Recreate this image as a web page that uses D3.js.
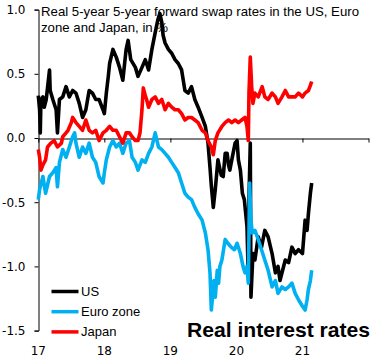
<!DOCTYPE html>
<html><head><meta charset="utf-8">
<script src="https://cdn.jsdelivr.net/npm/d3@7"></script>
<style>html,body{margin:0;padding:0;background:#fff;}svg{display:block;}</style>
</head><body>
<svg id="c" width="383" height="361"></svg>
<script>
// ---- data ----
const usDates = [2017.00,2017.02,2017.03,2017.04,2017.07,2017.09,2017.12,2017.17,2017.18,2017.22,2017.27,2017.29,2017.32,2017.37,2017.42,2017.47,2017.52,2017.57,2017.62,2017.67,2017.72,2017.77,2017.82,2017.87,2017.92,2017.98,2018.00,2018.03,2018.06,2018.08,2018.13,2018.18,2018.23,2018.28,2018.33,2018.36,2018.40,2018.47,2018.51,2018.57,2018.62,2018.67,2018.72,2018.77,2018.81,2018.84,2018.87,2018.89,2018.92,2018.97,2019.02,2019.07,2019.12,2019.17,2019.22,2019.27,2019.32,2019.37,2019.42,2019.48,2019.53,2019.57,2019.60,2019.62,2019.65,2019.68,2019.72,2019.77,2019.80,2019.83,2019.86,2019.88,2019.90,2019.93,2019.98,2020.01,2020.03,2020.06,2020.09,2020.12,2020.16,2020.18,2020.19,2020.21,2020.22,2020.25,2020.28,2020.33,2020.38,2020.43,2020.48,2020.54,2020.59,2020.63,2020.66,2020.69,2020.74,2020.79,2020.84,2020.89,2020.94,2021.00,2021.04,2021.07,2021.09,2021.12,2021.14];
const usValues = [0.33,0.22,0.04,0.30,0.32,0.24,0.30,0.53,0.37,0.30,0.22,0.04,0.30,0.32,0.40,0.32,0.37,0.35,0.27,0.16,0.22,0.37,0.35,0.30,0.30,0.22,0.19,0.35,0.48,0.58,0.69,0.63,0.55,0.45,0.69,0.76,0.61,0.55,0.48,0.55,0.61,0.53,0.69,0.82,0.92,0.97,0.90,0.80,0.74,0.69,0.66,0.61,0.58,0.53,0.37,0.35,0.40,0.30,0.24,0.16,0.09,-0.04,-0.23,-0.37,-0.54,-0.40,-0.17,-0.29,-0.30,-0.12,-0.12,-0.21,-0.25,-0.17,-0.04,-0.02,-0.17,-0.25,-0.43,-0.48,-0.69,-1.08,-0.48,-0.04,-1.24,-0.90,-0.95,-0.77,-0.85,-0.72,-0.77,-0.90,-1.05,-1.00,-1.11,-1.05,-0.95,-0.97,-0.85,-0.90,-0.87,-0.90,-0.64,-0.72,-0.59,-0.43,-0.35];

const euDates = [2017.00,2017.02,2017.07,2017.11,2017.17,2017.22,2017.27,2017.29,2017.32,2017.37,2017.42,2017.47,2017.52,2017.55,2017.57,2017.62,2017.67,2017.72,2017.77,2017.82,2017.87,2017.92,2017.98,2018.00,2018.03,2018.08,2018.13,2018.18,2018.23,2018.28,2018.33,2018.38,2018.42,2018.47,2018.51,2018.57,2018.62,2018.67,2018.72,2018.77,2018.82,2018.87,2018.92,2018.97,2019.02,2019.07,2019.12,2019.17,2019.22,2019.27,2019.32,2019.37,2019.42,2019.48,2019.53,2019.57,2019.60,2019.62,2019.66,2019.68,2019.71,2019.73,2019.75,2019.78,2019.83,2019.87,2019.92,2019.97,2020.01,2020.06,2020.10,2020.13,2020.16,2020.18,2020.20,2020.22,2020.24,2020.28,2020.33,2020.38,2020.43,2020.48,2020.54,2020.59,2020.63,2020.69,2020.74,2020.79,2020.84,2020.89,2020.94,2021.00,2021.04,2021.07,2021.09,2021.12,2021.14];
const euValues = [-0.48,-0.40,-0.30,-0.43,-0.30,-0.27,-0.23,-0.38,-0.19,-0.09,-0.15,-0.07,0.01,0.04,-0.04,-0.15,-0.07,-0.12,-0.04,-0.15,-0.19,-0.30,-0.35,-0.27,-0.17,-0.07,-0.02,-0.07,-0.04,-0.12,-0.04,-0.02,-0.15,-0.19,-0.25,-0.17,-0.19,-0.12,-0.07,0.04,-0.07,-0.09,-0.12,-0.15,-0.19,-0.23,-0.27,-0.35,-0.43,-0.46,-0.48,-0.54,-0.59,-0.64,-0.74,-0.87,-1.05,-1.34,-1.11,-1.24,-1.03,-1.13,-1.00,-0.95,-0.79,-0.82,-0.85,-0.87,-0.82,-0.90,-1.00,-1.05,-1.00,-1.13,-0.35,-0.64,-0.74,-0.72,-0.79,-0.87,-0.95,-1.03,-1.16,-1.11,-1.21,-1.16,-1.18,-1.16,-1.13,-1.21,-1.26,-1.31,-1.34,-1.26,-1.18,-1.11,-1.03];

const jpDates = [2017.00,2017.02,2017.04,2017.07,2017.11,2017.14,2017.19,2017.24,2017.29,2017.35,2017.37,2017.42,2017.45,2017.50,2017.52,2017.57,2017.62,2017.67,2017.72,2017.77,2017.82,2017.87,2017.92,2017.98,2018.03,2018.08,2018.13,2018.18,2018.23,2018.28,2018.33,2018.38,2018.42,2018.47,2018.51,2018.54,2018.57,2018.59,2018.62,2018.64,2018.67,2018.72,2018.77,2018.82,2018.87,2018.92,2018.97,2019.02,2019.07,2019.12,2019.17,2019.22,2019.27,2019.32,2019.37,2019.42,2019.48,2019.53,2019.57,2019.62,2019.65,2019.68,2019.72,2019.78,2019.83,2019.88,2019.93,2019.98,2020.03,2020.08,2020.13,2020.16,2020.18,2020.19,2020.21,2020.23,2020.25,2020.28,2020.33,2020.39,2020.43,2020.48,2020.54,2020.59,2020.63,2020.69,2020.74,2020.79,2020.84,2020.89,2020.94,2021.00,2021.04,2021.09,2021.12,2021.14];
const jpValues = [-0.09,-0.15,-0.25,-0.21,-0.17,-0.07,-0.04,-0.02,-0.07,-0.04,0.01,0.04,0.06,0.12,0.16,0.12,0.09,0.06,0.14,0.06,0.04,0.06,-0.02,0.04,0.06,0.09,0.06,0.06,0.01,-0.04,0.04,0.04,0.01,-0.02,-0.02,0.04,0.22,0.39,0.33,0.30,0.24,0.30,0.32,0.27,0.30,0.22,0.27,0.24,0.22,0.22,0.19,0.14,0.16,0.16,0.14,0.12,0.06,0.04,-0.02,-0.07,-0.13,-0.02,0.04,0.09,0.12,0.14,0.12,0.14,0.12,0.14,0.16,0.09,-0.02,0.35,0.63,0.41,0.27,0.35,0.32,0.40,0.32,0.30,0.35,0.32,0.27,0.32,0.37,0.32,0.32,0.32,0.35,0.32,0.35,0.37,0.41,0.44];

const seriesNames = ["US", "Euro zone", "Japan"];
const seriesColors = ["#000000", "#00B0F0", "#FF0000"];
const yTicks = [1.0, 0.5, 0.0, -0.5, -1.0, -1.5];
const yTickLabels = ["1.0", "0.5", "0.0", "-0.5", "-1.0", "-1.5"];
const xTicks = [2017, 2018, 2019, 2020, 2021, 2022];
const xTickLabels = ["17", "18", "19", "20", "21", ""];
const titleLines = ["Real 5-year 5-year forward swap rates in the US, Euro", "zone and Japan, in %"];
const bigTitle = "Real interest rates";

// ---- drawing ----
const svg = d3.select("#c");
const x = d3.scaleLinear().domain([2017, 2022]).range([38.3, 368.5]);
const y = d3.scaleLinear().domain([-1.5, 1.0]).range([330.6, 9.6]);

// title text (behind lines)
const tg = svg.append("g").attr("font-family", "'Liberation Sans', Arial, sans-serif").attr("font-size", 13).attr("fill", "#000");
const t1 = tg.append("text").attr("x", 41).attr("y", 16).text(titleLines[0]);
const w1 = t1.node().getComputedTextLength();
const ratio = 318 / w1;
t1.attr("textLength", 318).attr("lengthAdjust", "spacingAndGlyphs");
const t2 = tg.append("text").attr("x", 41).attr("y", 32).text(titleLines[1]);
const w2 = t2.node().getComputedTextLength();
t2.attr("textLength", w2 * ratio).attr("lengthAdjust", "spacingAndGlyphs");

// y axis
const yAxis = d3.axisLeft(y).tickValues(yTicks).tickFormat((d, i) => yTickLabels[i]).tickSize(4).tickPadding(9);
const gy = svg.append("g").attr("transform", "translate(38.5,0)").call(yAxis);
gy.select(".domain").attr("stroke", "#000");
gy.selectAll("text").attr("font-family", "'DejaVu Sans', sans-serif").attr("font-size", 12).attr("fill", "#000");

// x axis on zero line (labels at bottom)
const xAxis = d3.axisBottom(x).tickValues(xTicks).tickFormat("").tickSize(4).tickSizeOuter(0);
const gx = svg.append("g").attr("transform", `translate(0,${Math.round(y(0)) + 0.5})`).call(xAxis);
gx.select(".domain").attr("stroke", "#000");
svg.append("g").selectAll("text").data(xTicks).join("text")
  .attr("x", d => x(d)).attr("y", 355).attr("text-anchor", "middle")
  .attr("font-family", "'DejaVu Sans', sans-serif").attr("font-size", 12)
  .text((d, i) => xTickLabels[i]);

// lines
const seriesData = [
  usDates.map((d, i) => [d, usValues[i]]),
  euDates.map((d, i) => [d, euValues[i]]),
  jpDates.map((d, i) => [d, jpValues[i]])
];
const line = d3.line().x(d => x(d[0])).y(d => y(d[1]));
svg.append("g").selectAll("path").data(seriesData).join("path")
  .attr("d", line).attr("fill", "none")
  .attr("stroke", (d, i) => seriesColors[i]).attr("stroke-width", 3.6)
  .attr("stroke-linejoin", "round");

// legend
const lg = svg.append("g");
seriesNames.forEach((n, i) => {
  const yy = 291.5 + i * 20.2;
  lg.append("line").attr("x1", 51.5).attr("x2", 78.5).attr("y1", yy).attr("y2", yy)
    .attr("stroke", seriesColors[i]).attr("stroke-width", 3.5);
  lg.append("text").attr("x", 81).attr("y", yy + 4.5)
    .attr("font-family", "'Liberation Sans', Arial, sans-serif").attr("font-size", 13).text(n);
});

// big title
svg.append("text").attr("x", 187).attr("y", 337)
  .attr("font-family", "'Liberation Sans', Arial, sans-serif").attr("font-size", 21).attr("font-weight", "bold")
  .attr("textLength", 183).attr("lengthAdjust", "spacingAndGlyphs").text(bigTitle);
</script>
</body></html>
